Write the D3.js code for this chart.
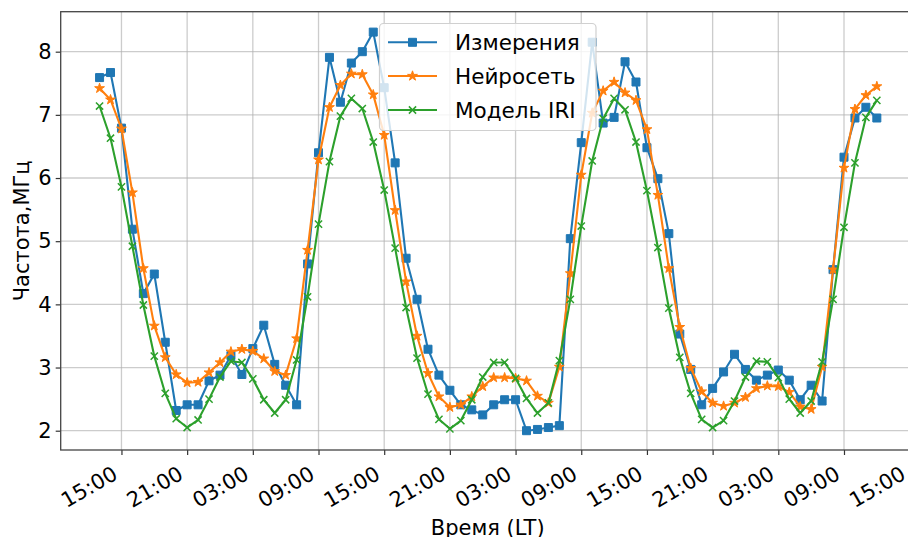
<!DOCTYPE html>
<html>
<head>
<meta charset="utf-8">
<script src="https://cdn.jsdelivr.net/npm/d3@7"></script>
<style>
  html, body { margin: 0; padding: 0; background: #fff; }
  svg { display: block; }
  text { font-family: "DejaVu Sans", sans-serif; fill: #000; }
</style>
</head>
<body>
<svg id="chart" width="908" height="537"></svg>
<script>
// Hourly samples, starting at 13:00 LT (hour offset 0) and running 72 hours.
const hours = d3.range(72);
const measured = [7.59, 7.67, 6.79, 5.19, 4.17, 4.48, 3.40, 2.32, 2.41, 2.41, 2.79, 2.88, 3.19, 2.89, 3.30, 3.67, 3.05, 2.72, 2.41, 4.64, 6.40, 7.91, 7.20, 7.82,
                  8.00, 8.31, 7.43, 6.24, 4.73, 4.08, 3.29, 2.88, 2.64, 2.41, 2.33, 2.25, 2.41, 2.49, 2.49, 2.00, 2.02, 2.05, 2.08, 5.04, 6.56, 8.15, 6.87, 6.96,
                  7.84, 7.52, 6.48, 5.99, 5.12, 3.53, 2.97, 2.41, 2.67, 2.93, 3.21, 2.97, 2.80, 2.88, 2.96, 2.80, 2.49, 2.72, 2.47, 4.55, 6.33, 6.95, 7.12, 6.95];
const neural = [7.42, 7.24, 6.78, 5.77, 4.57, 3.66, 3.16, 2.89, 2.76, 2.77, 2.92, 3.08, 3.25, 3.29, 3.26, 3.14, 2.94, 2.88, 3.46, 4.86, 6.29, 7.12, 7.47, 7.65,
                7.64, 7.32, 6.68, 5.49, 4.36, 3.50, 2.91, 2.54, 2.37, 2.41, 2.54, 2.70, 2.84, 2.84, 2.83, 2.79, 2.55, 2.44, 3.01, 4.49, 6.05, 7.03, 7.38, 7.52,
                7.35, 7.23, 6.77, 5.73, 4.57, 3.64, 2.99, 2.62, 2.44, 2.39, 2.44, 2.53, 2.67, 2.71, 2.70, 2.61, 2.38, 2.34, 3.01, 4.55, 6.16, 7.09, 7.31, 7.45];
const iri = [7.14, 6.63, 5.86, 4.92, 3.99, 3.18, 2.59, 2.19, 2.05, 2.17, 2.50, 2.85, 3.10, 3.08, 2.82, 2.49, 2.28, 2.49, 3.12, 4.12, 5.27, 6.26, 6.98, 7.26,
             7.10, 6.57, 5.81, 4.89, 3.95, 3.15, 2.58, 2.18, 2.03, 2.16, 2.49, 2.85, 3.08, 3.08, 2.83, 2.51, 2.28, 2.44, 3.11, 4.08, 5.24, 6.27, 6.94, 7.26,
             7.08, 6.57, 5.80, 4.90, 3.94, 3.16, 2.59, 2.18, 2.05, 2.16, 2.47, 2.85, 3.10, 3.09, 2.84, 2.50, 2.28, 2.47, 3.09, 4.08, 5.22, 6.24, 6.96, 7.23];
const seriesNames = ["Измерения", "Нейросеть", "Модель IRI"];
const xTickHours = [2, 8, 14, 20, 26, 32, 38, 44, 50, 56, 62, 68, 74];
const xTickLabels = ["15:00", "21:00", "03:00", "09:00", "15:00", "21:00", "03:00", "09:00", "15:00", "21:00", "03:00", "09:00", "15:00"];
const yTicks = [2, 3, 4, 5, 6, 7, 8];

const colors = ["#1f77b4", "#ff7f0e", "#2ca02c"];
const markers = ["square", "star", "x"];

const svg = d3.select("#chart");
const L = 60.7, R = 915.7, T = 11.7, B = 450;
const pad = (hours.length - 1) * 0.05;
const x = d3.scaleLinear().domain([0 - pad, hours.length - 1 + pad]).range([L, R]);
const y = d3.scaleLinear().domain([1.6945, 8.633]).range([B, T]);

// grid
const grid = svg.append("g");
grid.selectAll("line.v").data(xTickHours).enter().append("line")
  .attr("x1", d => x(d)).attr("x2", d => x(d)).attr("y1", T).attr("y2", B)
  .attr("stroke", "#b0b0b0").attr("stroke-opacity", 0.65).attr("stroke-width", 1.3);
grid.selectAll("line.h").data(yTicks).enter().append("line")
  .attr("x1", L).attr("x2", R).attr("y1", d => y(d)).attr("y2", d => y(d))
  .attr("stroke", "#b0b0b0").attr("stroke-opacity", 0.65).attr("stroke-width", 1.3);

// axes
const xAxis = d3.axisBottom(x).tickValues(xTickHours).tickSize(5).tickFormat((d, i) => xTickLabels[i]);
const gx = svg.append("g").attr("transform", `translate(0,${B})`).call(xAxis);
gx.select(".domain").remove();
gx.selectAll(".tick line").attr("stroke", "#333").attr("stroke-width", 1.2);
gx.selectAll(".tick text")
  .attr("font-size", 21).attr("font-family", "DejaVu Sans").attr("fill", "#000")
  .attr("text-anchor", "end").attr("y", 0).attr("dy", 0)
  .attr("transform", "translate(-3,28) rotate(-30)");

const yAxis = d3.axisLeft(y).tickValues(yTicks).tickSize(5).tickPadding(4).tickFormat(d3.format("d"));
const gy = svg.append("g").attr("transform", `translate(${L},0)`).call(yAxis);
gy.select(".domain").remove();
gy.selectAll(".tick line").attr("stroke", "#333").attr("stroke-width", 1.2);
gy.selectAll(".tick text").attr("font-size", 21).attr("font-family", "DejaVu Sans").attr("fill", "#000");

// frame
svg.append("rect").attr("x", L).attr("y", T).attr("width", R - L).attr("height", B - T)
  .attr("fill", "none").attr("stroke", "#444").attr("stroke-width", 1.3);

// series
const plot = svg.append("g");
const allSeries = [measured, neural, iri];
function drawMarker(g, type, color) {
  if (type === "square") {
    g.append("path").attr("d", d3.symbol(d3.symbolSquare, 64)()).attr("fill", color).attr("stroke", color).attr("stroke-width", 1);
  } else if (type === "star") {
    g.append("path").attr("d", d3.symbol(d3.symbolStar, 30)()).attr("fill", color).attr("stroke", color).attr("stroke-width", 1);
  } else {
    const s = 3.6;
    g.append("path").attr("d", `M${-s},${-s}L${s},${s}M${-s},${s}L${s},${-s}`)
      .attr("fill", "none").attr("stroke", color).attr("stroke-width", 1.5);
  }
}
allSeries.forEach((vals, si) => {
  const line = d3.line().x((d, i) => x(hours[i])).y(d => y(d));
  plot.append("path").datum(vals).attr("d", line).attr("fill", "none")
    .attr("stroke", colors[si]).attr("stroke-width", 2.1).attr("stroke-linejoin", "round");
  const mg = plot.append("g");
  vals.forEach((v, i) => {
    const g = mg.append("g").attr("transform", `translate(${x(hours[i])},${y(v)})`);
    drawMarker(g, markers[si], colors[si]);
  });
});

// axis labels
svg.append("text").attr("x", (L + R) / 2 - 0.5).attr("y", 535).attr("text-anchor", "middle")
  .attr("font-size", 21).text("Время (LT)");
svg.append("text").attr("transform", `translate(29,${(T + B) / 2}) rotate(-90)`).attr("text-anchor", "middle")
  .attr("font-size", 21).text("Частота,МГц");

// legend
const lg = svg.append("g");
lg.append("rect").attr("x", 379.5).attr("y", 23.5).attr("width", 216.5).attr("height", 107).attr("rx", 4)
  .attr("fill", "#fff").attr("fill-opacity", 0.8).attr("stroke", "#d0d0d0").attr("stroke-width", 1.2);
const rowY = [42.3, 76, 110];
seriesNames.forEach((name, i) => {
  lg.append("line").attr("x1", 388).attr("x2", 437).attr("y1", rowY[i]).attr("y2", rowY[i])
    .attr("stroke", colors[i]).attr("stroke-width", 2.1);
  const g = lg.append("g").attr("transform", `translate(412.5,${rowY[i]})`);
  drawMarker(g, markers[i], colors[i]);
  lg.append("text").attr("x", 455).attr("y", rowY[i]).attr("dy", "0.36em").attr("font-size", 21.5).text(name);
});
</script>
</body>
</html>
